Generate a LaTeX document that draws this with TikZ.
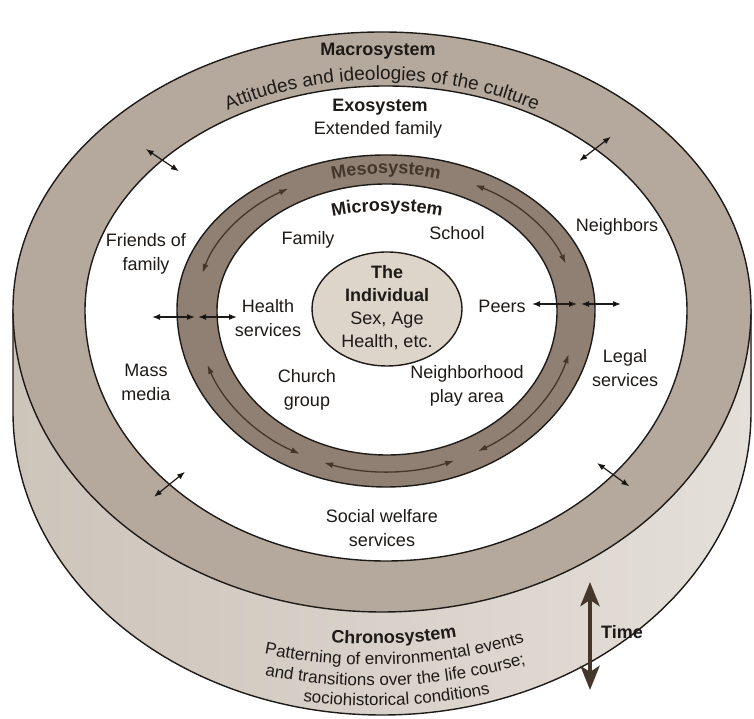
\documentclass[tikz,border=0pt]{standalone}
\usepackage{fontspec}
\setmainfont{Liberation Sans}
\usepackage{tikz}
\usetikzlibrary{arrows.meta,calc,decorations.text,positioning}
\definecolor{macrofill}{HTML}{B5A99D}
\definecolor{mesofill}{HTML}{8F8073}
\definecolor{chronoleft}{HTML}{CDC4BA}
\definecolor{chronoright}{HTML}{E4DFD9}
\definecolor{indivfill}{HTML}{DDD4CA}
\definecolor{mesoink}{HTML}{45362B}
\definecolor{rim}{HTML}{1E1A17}
\newcommand{\ringfont}{\fontsize{18}{24}\selectfont}
\newcommand{\arcfont}{\fontsize{19}{24}\selectfont}
\newcommand{\chronofont}{\fontsize{17}{20}\selectfont}
\tikzstyle{ring} = [draw=rim, line width=1.4pt]
\tikzstyle{entry} = [align=center, text=rim, font=\ringfont, inner sep=1pt]
\tikzstyle{sysname} = [text=rim, font=\ringfont\bfseries, inner sep=1pt]
\tikzstyle{link} = [draw=rim, line width=1.2pt, {Latex[length=8pt,width=6pt]}-{Latex[length=8pt,width=6pt]}]
\tikzstyle{mesolink} = [draw=mesoink, line width=1.3pt, {Latex[length=9pt,width=6pt]}-{Latex[length=9pt,width=6pt]}]

\begin{document}
\begin{tikzpicture}[x=1pt, y=1pt]
		\useasboundingbox (0,0) rectangle (754,719);
		% Centres of the rings
		\coordinate (topc) at (382,410);
		\coordinate (exoc) at (386,409);
		\coordinate (mesoc) at (386,409.5);
		\coordinate (microc) at (387,408);
		\coordinate (chronoc) at (372,583);
		% Side of the cylinder
		\fill[left color=chronoleft, right color=chronoright] (13,410) -- (13,307) arc[start angle=180, end angle=360, x radius=369, y radius=303] -- (751,410) -- cycle;
		\draw[ring] (13,410) -- (13,307) arc[start angle=180, end angle=360, x radius=369, y radius=303] -- (751,410);
		% Rings of the top face (lower halves a little deeper)
		\draw[ring, fill=macrofill] (13,410) arc[start angle=180, end angle=0, x radius=369, y radius=277] arc[start angle=0, end angle=-180, x radius=369, y radius=303] -- cycle;
		\draw[ring, fill=white] (85,409) arc[start angle=180, end angle=0, x radius=301, y radius=224] arc[start angle=0, end angle=-180, x radius=301, y radius=251] -- cycle;
		\draw[ring, fill=mesofill] (177,409.5) arc[start angle=180, end angle=0, x radius=209, y radius=154.5] arc[start angle=0, end angle=-180, x radius=209, y radius=177.5] -- cycle;
		\draw[ring, fill=white] (217,408) arc[start angle=180, end angle=0, x radius=170, y radius=127] arc[start angle=0, end angle=-180, x radius=170, y radius=144] -- cycle;
		\draw[ring, fill=indivfill] (387,410) ellipse [x radius=75, y radius=57];
		% Curved texts
		\path[decorate, decoration={text along path, text align=center, text color=rim, text={|\arcfont|Attitudes and ideologies of the culture}}] ($(topc)+(155:310 and 229)$) arc[start angle=155, end angle=25, x radius=310, y radius=229];
		\path[decorate, decoration={text along path, text align=center, text color=mesoink, text={|\ringfont\bfseries|Mesosystem}}] ($(mesoc)+(125:186 and 136)$) arc[start angle=125, end angle=55, x radius=186, y radius=136];
		\path[decorate, decoration={text along path, text align=center, text color=rim, text={|\ringfont\bfseries|Microsystem}}] ($(microc)+(130:170 and 100)$) arc[start angle=130, end angle=50, x radius=170, y radius=100];
		\path[decorate, decoration={text along path, text align=center, text color=rim, text={|\ringfont\bfseries|Chronosystem}}] ($(chronoc)+(247.5:508)$) arc[start angle=247.5, end angle=297.5, radius=508];
		\path[decorate, decoration={text along path, text align=center, text color=rim, text={|\chronofont|Patterning of environmental events}}] ($(chronoc)+(247.5:529)$) arc[start angle=247.5, end angle=297.5, radius=529];
		\path[decorate, decoration={text along path, text align=center, text color=rim, text={|\chronofont|and transitions over the life course;}}] ($(chronoc)+(247.5:550)$) arc[start angle=247.5, end angle=297.5, radius=550];
		\path[decorate, decoration={text along path, text align=center, text color=rim, text={|\chronofont|sociohistorical conditions}}] ($(chronoc)+(247.5:570)$) arc[start angle=247.5, end angle=297.5, radius=570];
		% Place nodes
		\node[sysname] (macroname) at (378,668) {Macrosystem};
		\node[sysname] (exoname) at (380,612) {Exosystem};
		\node[entry] (extfam) at (378,589) {Extended family};
		\node[entry] (friends) at (146,465) {Friends of\\family};
		\node[entry] (family) at (308,479) {Family};
		\node[entry] (school) at (457,486) {School};
		\node[entry] (neighbors) at (617,492) {Neighbors};
		\node[entry] (health) at (268,401) {Health\\services};
		\node[entry] (peers) at (502,413) {Peers};
		\node[entry] (mass) at (146,337) {Mass\\media};
		\node[entry] (church) at (307,329) {Church\\group};
		\node[entry] (playarea) at (467,333) {Neighborhood\\play area};
		\node[entry] (legal) at (625,351) {Legal\\services};
		\node[entry] (welfare) at (382,191) {Social welfare\\services};
		\node[entry, font=\fontsize{18}{23}\selectfont] (indiv) at (387,411) {\textbf{The}\\\textbf{Individual}\\Sex, Age\\Health, etc.};
		\node[sysname] (timelbl) at (622,87) {Time};
		% Draw edges
		\foreach \ang/\ry/\nm in {138/224/ul, 46/224/ur, 224/251/ll, 319/251/lr} {
			\coordinate (\nm) at ($(exoc)+(\ang:301 and \ry)$);
			\coordinate (\nm in) at ($(\nm)!20pt!(exoc)$);
			\coordinate (\nm out) at ($(\nm)!-20pt!(exoc)$);
			\draw[link] (\nm out) -- (\nm in);
		}
		\foreach \a/\b/\ry/\nm in {165/121/141/mul, 62/19/141/mur, 200/243/162/mll, 251/291/162/mbt, 299/344/162/mlr} {
			\coordinate (\nm) at ($(mesoc)+(\a:190 and \ry)$);
			\draw[mesolink] (\nm) arc[start angle=\a, end angle=\b, x radius=190, y radius=\ry];
		}
		\coordinate (hl1) at (152,402);
		\coordinate (hl2) at (195,402);
		\coordinate (hl3) at (198,402);
		\coordinate (hl4) at (237,402);
		\coordinate (hr1) at (532,415);
		\coordinate (hr2) at (577,415);
		\coordinate (hr3) at (581,415);
		\coordinate (hr4) at (621,415);
		\path[link] (hl1) -- (hl2);
		\path[link] (hl3) -- (hl4);
		\path[link] (hr1) -- (hr2);
		\path[link] (hr3) -- (hr4);
		\coordinate (timetop) at (590,137);
		\coordinate (timebot) at (590,29);
		\draw[draw=mesoink, line width=4.5pt, {Stealth[length=24pt,width=19pt,inset=6pt]}-{Stealth[length=24pt,width=19pt,inset=6pt]}] (timetop) -- (timebot);
	\end{tikzpicture}
\end{document}
